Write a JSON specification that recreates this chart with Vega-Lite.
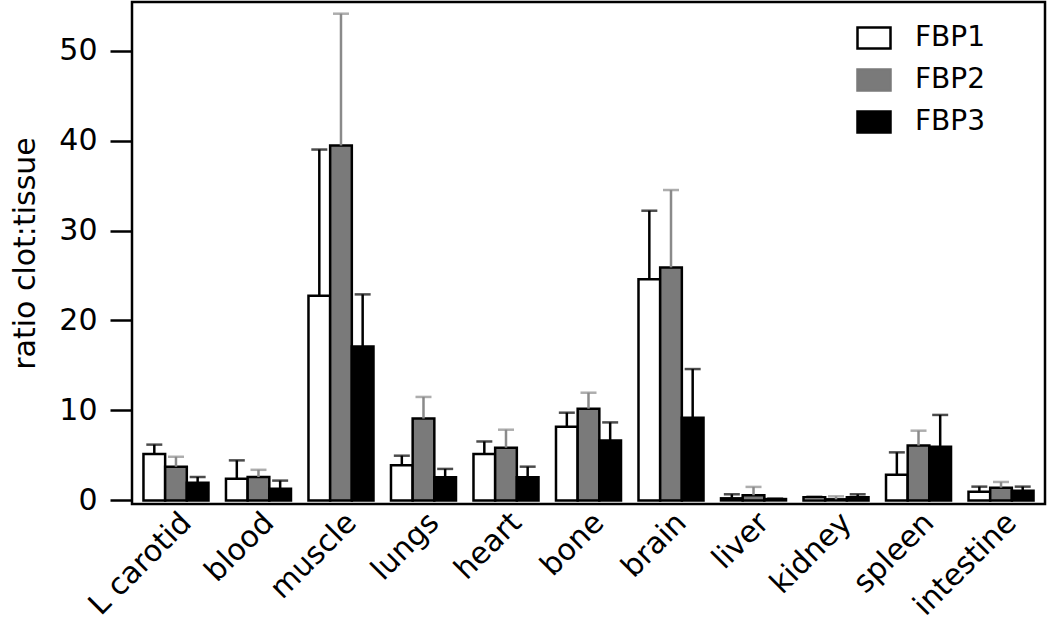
{
  "$schema": "https://vega.github.io/schema/vega-lite/v6.json",
  "width": 913,
  "height": 502,
  "autosize": "none",
  "padding": {"left": 132, "top": 2, "right": 5, "bottom": 125},
  "background": "white",
  "config": {
    "view": {"stroke": "black", "strokeWidth": 2.5},
    "font": "DejaVu Sans"
  },
  "data": {
    "values": [
      {"organ": "L carotid", "series": "FBP1", "value": 5.15, "err": 6.2},
      {"organ": "L carotid", "series": "FBP2", "value": 3.75, "err": 4.85},
      {"organ": "L carotid", "series": "FBP3", "value": 1.97, "err": 2.6},
      {"organ": "blood", "series": "FBP1", "value": 2.4, "err": 4.45},
      {"organ": "blood", "series": "FBP2", "value": 2.6, "err": 3.4},
      {"organ": "blood", "series": "FBP3", "value": 1.3, "err": 2.2},
      {"organ": "muscle", "series": "FBP1", "value": 22.75, "err": 39.0},
      {"organ": "muscle", "series": "FBP2", "value": 39.45, "err": 54.1},
      {"organ": "muscle", "series": "FBP3", "value": 17.1, "err": 22.9},
      {"organ": "lungs", "series": "FBP1", "value": 3.9, "err": 4.97},
      {"organ": "lungs", "series": "FBP2", "value": 9.1, "err": 11.5},
      {"organ": "lungs", "series": "FBP3", "value": 2.57, "err": 3.5},
      {"organ": "heart", "series": "FBP1", "value": 5.15, "err": 6.55},
      {"organ": "heart", "series": "FBP2", "value": 5.86, "err": 7.86},
      {"organ": "heart", "series": "FBP3", "value": 2.57, "err": 3.75},
      {"organ": "bone", "series": "FBP1", "value": 8.2, "err": 9.75},
      {"organ": "bone", "series": "FBP2", "value": 10.2, "err": 11.97},
      {"organ": "bone", "series": "FBP3", "value": 6.67, "err": 8.67},
      {"organ": "brain", "series": "FBP1", "value": 24.57, "err": 32.2},
      {"organ": "brain", "series": "FBP2", "value": 25.9, "err": 34.5},
      {"organ": "brain", "series": "FBP3", "value": 9.2, "err": 14.6},
      {"organ": "liver", "series": "FBP1", "value": 0.23, "err": 0.68},
      {"organ": "liver", "series": "FBP2", "value": 0.57, "err": 1.5},
      {"organ": "liver", "series": "FBP3", "value": 0.15, "err": 0.2},
      {"organ": "kidney", "series": "FBP1", "value": 0.34, "err": 0.4},
      {"organ": "kidney", "series": "FBP2", "value": 0.12, "err": 0.45},
      {"organ": "kidney", "series": "FBP3", "value": 0.35, "err": 0.68},
      {"organ": "spleen", "series": "FBP1", "value": 2.86, "err": 5.34},
      {"organ": "spleen", "series": "FBP2", "value": 6.1, "err": 7.75},
      {"organ": "spleen", "series": "FBP3", "value": 5.97, "err": 9.5},
      {"organ": "intestine", "series": "FBP1", "value": 0.97, "err": 1.53},
      {"organ": "intestine", "series": "FBP2", "value": 1.42, "err": 2.05},
      {"organ": "intestine", "series": "FBP3", "value": 1.08, "err": 1.53}
    ]
  },
  "encoding": {
    "x": {
      "field": "organ",
      "type": "nominal",
      "sort": ["L carotid", "blood", "muscle", "lungs", "heart", "bone", "brain", "liver", "kidney", "spleen", "intestine"],
      "scale": {"paddingInner": 0.212, "paddingOuter": 0.139},
      "axis": {
        "title": null,
        "labelAngle": -45,
        "labelAlign": "right",
        "labelBaseline": "top",
        "labelFontSize": 30,
        "labelColor": "black",
        "ticks": false,
        "domain": false,
        "labelPadding": 3
      }
    },
    "xOffset": {"field": "series", "type": "nominal", "scale": {"paddingInner": 0, "paddingOuter": 0}}
  },
  "layer": [
    {
      "mark": {"type": "bar", "stroke": "black", "strokeWidth": 2.5},
      "encoding": {
        "y": {
          "field": "value",
          "type": "quantitative",
          "scale": {"domain": [-0.4, 55.4], "nice": false},
          "axis": {
            "title": "ratio clot:tissue",
            "titleFontSize": 30,
            "titleFontWeight": "normal",
            "titleColor": "black",
            "titlePadding": 18,
            "values": [0, 10, 20, 30, 40, 50],
            "labelFontSize": 30,
            "labelColor": "black",
            "labelPadding": 13,
            "tickSize": 22,
            "tickWidth": 2.5,
            "tickColor": "black",
            "domain": false,
            "grid": false
          }
        },
        "fill": {
          "field": "series",
          "type": "nominal",
          "scale": {"range": ["white", "#7a7a7a", "black"]},
          "legend": {
            "title": null,
            "orient": "none",
            "legendX": 724,
            "legendY": 18,
            "padding": 0,
            "labelFontSize": 28,
            "labelColor": "black",
            "labelOffset": 23,
            "symbolType": "M-1,-0.64H1V0.64H-1Z",
            "symbolSize": 1089,
            "symbolStrokeWidth": 2.5,
            "symbolStrokeColor": "black",
            "rowPadding": 8,
            "encode": {
              "symbols": {
                "update": {
                  "stroke": {"signal": "datum.value === 'FBP2' ? '#7a7a7a' : 'black'"}
                }
              }
            }
          }
        }
      }
    },
    {
      "mark": {"type": "rule", "strokeWidth": 2.5},
      "encoding": {
        "y": {"field": "value", "type": "quantitative", "title": "ratio clot:tissue"},
        "y2": {"field": "err"},
        "color": {
          "field": "series",
          "type": "nominal",
          "scale": {"range": ["black", "#8a8a8a", "black"]},
          "legend": null
        }
      }
    },
    {
      "mark": {"type": "tick", "thickness": 2.5, "size": 16},
      "encoding": {
        "y": {"field": "err", "type": "quantitative", "title": "ratio clot:tissue"},
        "color": {
          "field": "series",
          "type": "nominal",
          "scale": {"range": ["black", "#8a8a8a", "black"]},
          "legend": null
        }
      }
    }
  ]
}
